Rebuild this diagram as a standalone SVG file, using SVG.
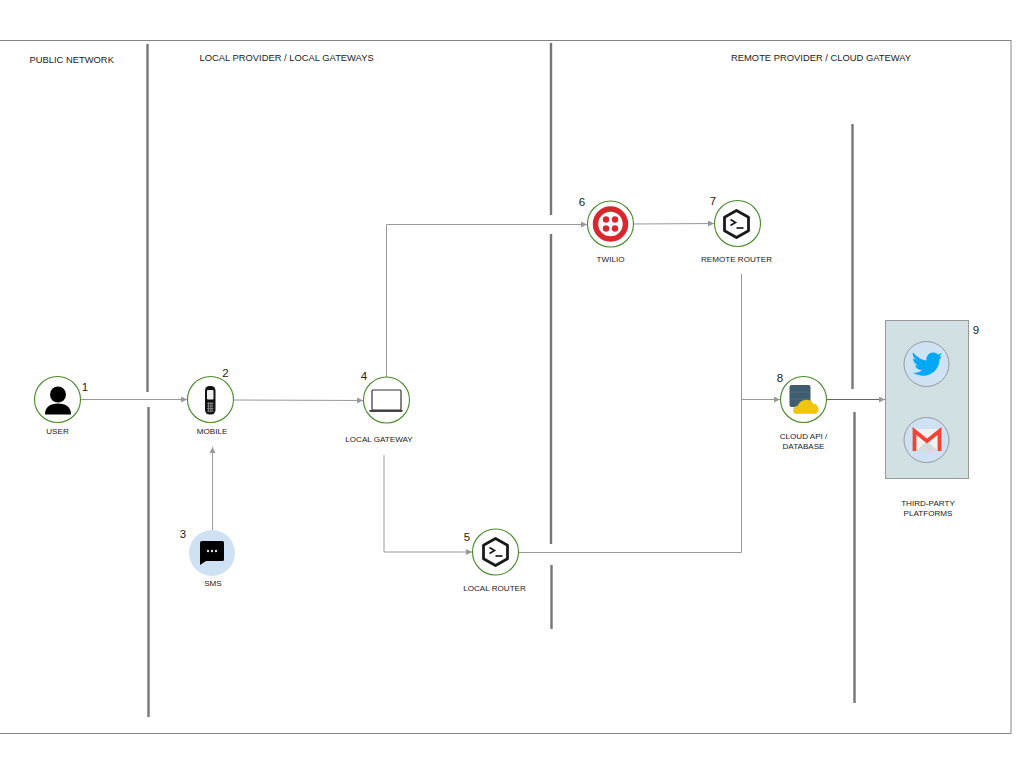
<svg xmlns="http://www.w3.org/2000/svg" width="1024" height="768" viewBox="0 0 1024 768">
<style>
text{font-family:"Liberation Sans",Arial,sans-serif;fill:#222}
.t{font-size:9.4px}
.l{font-size:8.1px;text-anchor:middle}
.n{font-size:11.5px;text-anchor:middle}
.ring{fill:#fff;stroke:#4a8a2c;stroke-width:1.1}
.div{stroke:#777;stroke-width:2.4;fill:none}
.c{fill:none;stroke:#999;stroke-width:1;marker-end:url(#a)}
.p{fill:none;stroke:#999;stroke-width:1}
</style>
<defs>
<marker id="a" markerUnits="userSpaceOnUse" markerWidth="7" markerHeight="6" refX="6" refY="3" orient="auto"><path d="M0 0L6 3L0 6z" fill="#999"/></marker>
<g id="hex"><path d="M0-13.500L12-6.800V6.800L0 13.500L-12 6.800V-6.800z" fill="none" stroke="#1a1a1a" stroke-width="2.800" stroke-linejoin="round"/><path d="M-6-4.500L-1-1.500L-6 1.500" fill="none" stroke="#1a1a1a" stroke-width="1.700"/><path d="M0 4H7" stroke="#1a1a1a" stroke-width="1.700"/></g>
</defs>
<rect x="-1" y="40.500" width="1012" height="693" fill="#fff" stroke="#666" stroke-width="0.8"/>
<g id="dividers">
<path class="div" d="M147.500 44V392M148.500 407V717M551 43V215M551 234V544M551.500 565V629M852.500 124V389M854.500 412V703"/>
</g>
<g id="zones">
<text class="t" x="29.500" y="63">PUBLIC NETWORK</text>
<text class="t" x="199.500" y="61">LOCAL PROVIDER / LOCAL GATEWAYS</text>
<text class="t" x="731" y="61">REMOTE PROVIDER / CLOUD GATEWAY</text>
</g>
<g id="connectors">
<path class="c" d="M81 399.500H187"/>
<path class="c" d="M234 400L363 400.500"/>
<path class="c" d="M212.500 531V447"/>
<path class="c" d="M386.500 377V224.500H587"/>
<path class="c" d="M384 455V552H472"/>
<path class="c" d="M634 224L714 223.500"/>
<path class="p" d="M519 552.500H741.500V274"/>
<path class="c" d="M741.500 399.500H780"/>
<path class="c" d="M827 399.500H885" style="stroke:#666"/>
</g>
<g id="user">
<circle class="ring" cx="57.500" cy="399.500" r="23"/>
<circle cx="58" cy="394.500" r="8"/>
<path d="M45 414.500C45 407 50 403.500 58 403.500S71 407 71 414.500z"/>
<text class="l" x="57.500" y="434">USER</text>
<text class="n" x="85" y="391">1</text>
</g>
<g id="mobile">
<circle class="ring" cx="210.500" cy="399.500" r="23"/>
<rect x="205" y="386" width="10.500" height="28.500" rx="4.500" fill="#111"/>
<rect x="207" y="390" width="6.500" height="9.500" rx="1" fill="#eee"/>
<path d="M207 403.500H213.500M207 406H213.500M207 408.500H213.500M207 411H213.500M208.500 402V412M210.300 402V412M212 402V412" stroke="#999" stroke-width=".7"/>
<text class="l" x="212" y="434">MOBILE</text>
<text class="n" x="225.500" y="377">2</text>
</g>
<g id="sms">
<circle cx="212" cy="553" r="23" fill="#cfe2f3"/>
<path d="M202 541H222.500Q224 541 224 542.500V559.500Q224 561 222.500 561H206L200 565V543Q200 541 202 541z" fill="#000"/>
<circle cx="208" cy="551" r="1.200" fill="#cfe2f3"/><circle cx="212" cy="551" r="1.200" fill="#cfe2f3"/><circle cx="216" cy="551" r="1.200" fill="#cfe2f3"/>
<text class="l" x="213" y="586">SMS</text>
<text class="n" x="183" y="538">3</text>
</g>
<g id="local-gateway">
<circle class="ring" cx="386.500" cy="400" r="23"/>
<rect x="372" y="390" width="29" height="20" rx="1" fill="#fff" stroke="#333" stroke-width="1.200"/>
<path d="M369 410H403L402 412H370z" fill="#444"/>
<text class="l" x="379" y="442">LOCAL GATEWAY</text>
<text class="n" x="364" y="380">4</text>
</g>
<g id="local-router">
<circle class="ring" cx="495.500" cy="552" r="23"/>
<use href="#hex" x="495.500" y="552"/>
<text class="l" x="494.500" y="591">LOCAL ROUTER</text>
<text class="n" x="467" y="541">5</text>
</g>
<g id="twilio">
<circle class="ring" cx="610.500" cy="224" r="23"/>
<circle cx="610.500" cy="224" r="15" fill="none" stroke="#d9272e" stroke-width="5.500"/>
<circle cx="606" cy="219.500" r="3.200" fill="#d9272e"/><circle cx="615" cy="219.500" r="3.200" fill="#d9272e"/><circle cx="606" cy="228.500" r="3.200" fill="#d9272e"/><circle cx="615" cy="228.500" r="3.200" fill="#d9272e"/>
<text class="l" x="610.500" y="262">TWILIO</text>
<text class="n" x="582" y="206">6</text>
</g>
<g id="remote-router">
<circle class="ring" cx="737.500" cy="223.500" r="23"/>
<use href="#hex" x="736.500" y="224"/>
<text class="l" x="736.500" y="262">REMOTE ROUTER</text>
<text class="n" x="713" y="205">7</text>
</g>
<g id="cloud-api">
<circle class="ring" cx="803.500" cy="399.500" r="23"/>
<rect x="789.500" y="385" width="21" height="22" rx="2" fill="#3f5d6e"/>
<path d="M789.500 392H810.500M789.500 399H810.500" stroke="#567586" stroke-width=".7"/>
<path d="M796 413.500C792 413.500 792.500 406 798 406C800 399 811 398 813 404C819 403.500 820 413.500 815 413.500z" fill="#f1c40f" stroke="#f1c40f" stroke-width=".6"/>
<text class="l" x="803.500" y="439">CLOUD API /</text>
<text class="l" x="803.500" y="449">DATABASE</text>
<text class="n" x="780" y="382">8</text>
</g>
<g id="platforms">
<rect x="885.500" y="320.500" width="83" height="158" fill="#d0e0e3" stroke="#999"/>
<circle cx="926.500" cy="364" r="22.500" fill="#cfe2f3" stroke="#999"/>
<path d="M913 352.500C918 358 922 360 926.500 360.500C925.500 354 933 350 938 354.500L941.500 353L939.500 357L942 356.500L939.500 359.500C939.500 370 930 377 921 375.500C918 375 915 374 913 373C917 373 920 372 922 370C918 370 916 368 915 365.500L918 365.500C915 364 913 361 913 358.500L916 359.500C913 357 912 354.500 913 352.500z" fill="#03a9f4"/>
<circle cx="926.500" cy="440" r="22.500" fill="#cfe2f3" stroke="#999"/>
<path d="M913 429H941V451H913z" fill="#f2f2f2"/>
<path d="M916 451L927 441L938 451z" fill="#d5dcdc"/>
<path d="M914.500 451V431L927 441L939.500 431V451" fill="none" stroke="#f44336" stroke-width="3.800"/>
<text class="l" x="928" y="506">THIRD-PARTY</text>
<text class="l" x="928" y="516">PLATFORMS</text>
<text class="n" x="976" y="334">9</text>
</g>
</svg>
